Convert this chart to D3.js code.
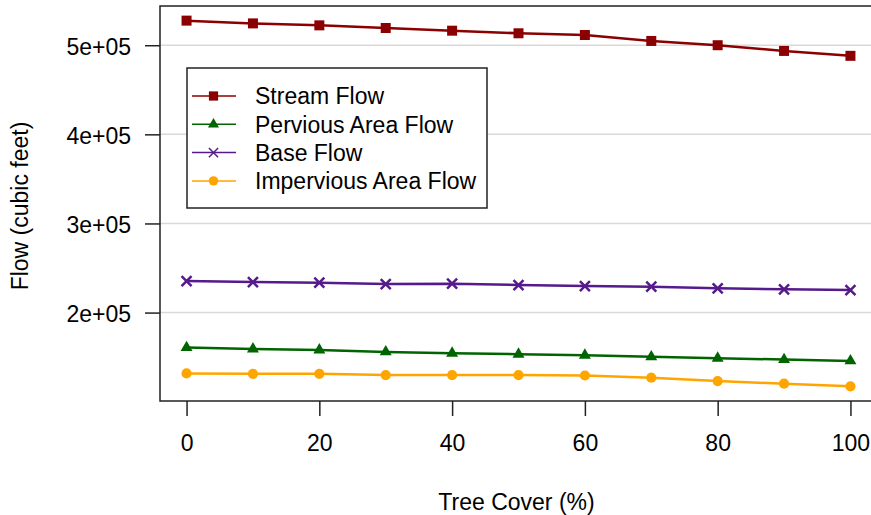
<!DOCTYPE html>
<html>
<head>
<meta charset="utf-8">
<script src="https://cdn.jsdelivr.net/npm/d3@7"></script>
<style>
  body { margin: 0; background: #fff; }
  svg text { font-family: "Liberation Sans", Arial, sans-serif; fill: #000; }
</style>
</head>
<body>
<svg id="chart" width="871" height="515"></svg>
<script>
// tree cover (%) at each marker
const treeCover = [0, 10, 20, 30, 40, 50, 60, 70, 80, 90, 100];

const streamFlow = [527600, 524500, 522300, 519300, 516300, 513400, 511500, 504800, 500000, 493600, 488100];
const perviousFlow = [160700, 159200, 158100, 155900, 154400, 153300, 152200, 150300, 148800, 147300, 145800];
const baseFlow = [235400, 234200, 233600, 232000, 232400, 230900, 229800, 229100, 227200, 226100, 225300];
const imperviousFlow = [131700, 131300, 131300, 129900, 129900, 129900, 129400, 126900, 123200, 120200, 117200];

const seriesNames = ["Stream Flow", "Pervious Area Flow", "Base Flow", "Impervious Area Flow"];
const seriesColors = ["#8B0000", "#006400", "#551A8B", "#FFA500"];
const seriesSymbols = [d3.symbolSquare, d3.symbolTriangle, d3.symbolTimes, d3.symbolCircle];
const symbolSizes = [100, 62, 67, 82];

const yTicks = [200000, 300000, 400000, 500000];
const xTicks = [0, 20, 40, 60, 80, 100];

const series = [streamFlow, perviousFlow, baseFlow, imperviousFlow].map((vals, i) => ({
  name: seriesNames[i],
  color: seriesColors[i],
  symbol: seriesSymbols[i],
  size: symbolSizes[i],
  points: vals.map((v, j) => ({x: treeCover[j], y: v}))
}));

const plot = {left: 160, top: 6, right: 877, bottom: 401};

// R style 4% padding on both axes
function padded(lo, hi) {
  const d = (hi - lo) * 0.04;
  return [lo - d, hi + d];
}

const allY = [].concat(streamFlow, perviousFlow, baseFlow, imperviousFlow);

var x = d3.scaleLinear()
    .domain(padded(d3.min(treeCover), d3.max(treeCover)))
    .range([plot.left, plot.right]);

var y = d3.scaleLinear()
    .domain(padded(d3.min(allY), d3.max(allY)))
    .range([plot.bottom, plot.top]);

var svg = d3.select("#chart");

// grid
svg.append("g").selectAll("line").data(yTicks).enter().append("line")
    .attr("x1", plot.left).attr("x2", plot.right)
    .attr("y1", d => y(d)).attr("y2", d => y(d))
    .attr("stroke", "#d9d9d9").attr("stroke-width", 1.5);

// axes
var yAxis = d3.axisLeft(y)
    .tickValues(yTicks)
    .tickSize(15)
    .tickPadding(14)
    .tickFormat(d => (d / 100000) + "e+05");

var xAxis = d3.axisBottom(x)
    .tickValues(xTicks)
    .tickSize(15)
    .tickPadding(19);

var yAxisG = svg.append("g")
    .attr("transform", `translate(${plot.left},0)`)
    .call(yAxis);

var xAxisG = svg.append("g")
    .attr("transform", `translate(0,${plot.bottom})`)
    .call(xAxis);

[yAxisG, xAxisG].forEach(g => {
  g.select(".domain").remove();
  g.selectAll(".tick line").attr("stroke", "#222").attr("stroke-width", 1.5);
  g.selectAll(".tick text").attr("font-size", 23).attr("fill", "#000");
});
yAxisG.selectAll(".tick text").attr("dy", "0.4em");

// box
svg.append("rect")
    .attr("x", plot.left).attr("y", plot.top)
    .attr("width", plot.right - plot.left).attr("height", plot.bottom - plot.top)
    .attr("fill", "none").attr("stroke", "#222").attr("stroke-width", 1.5);

// lines
var line = d3.line().x(d => x(d.x)).y(d => y(d.y));

var seriesG = svg.append("g").selectAll("g").data(series).enter().append("g");

seriesG.append("path")
    .attr("d", d => line(d.points))
    .attr("fill", "none")
    .attr("stroke", d => d.color)
    .attr("stroke-width", 2.5);

seriesG.each(function(s) {
  var sym = d3.symbol().type(s.symbol).size(s.size);
  var isStroke = s.symbol === d3.symbolTimes;
  d3.select(this).selectAll(".pt").data(s.points).enter().append("path")
      .attr("class", "pt")
      .attr("transform", d => `translate(${x(d.x)},${y(d.y)})`)
      .attr("d", sym)
      .attr("fill", isStroke ? "none" : s.color)
      .attr("stroke", isStroke ? s.color : "none")
      .attr("stroke-width", isStroke ? 2.5 : 0);
});

// legend
var legend = svg.append("g");
legend.append("rect")
    .attr("x", 187).attr("y", 68)
    .attr("width", 300).attr("height", 140)
    .attr("fill", "#fff").attr("stroke", "#222").attr("stroke-width", 1.5);

var rows = legend.selectAll(".row").data(series).enter().append("g")
    .attr("class", "row")
    .attr("transform", (d, i) => `translate(0,${96 + i * 28.3})`);

rows.append("line")
    .attr("x1", 192).attr("x2", 236)
    .attr("stroke", d => d.color).attr("stroke-width", 1.5);

rows.append("path")
    .attr("transform", "translate(213.5,0)")
    .attr("d", d => d3.symbol().type(d.symbol).size(d.size * 0.85)())
    .attr("fill", d => d.symbol === d3.symbolTimes ? "none" : d.color)
    .attr("stroke", d => d.symbol === d3.symbolTimes ? d.color : "none")
    .attr("stroke-width", 1.5);

rows.append("text")
    .attr("x", 255).attr("dy", "0.36em")
    .attr("font-size", 23)
    .text(d => d.name);

// axis titles
svg.append("text")
    .attr("x", (plot.left + 877) / 2 - 2).attr("y", 510)
    .attr("text-anchor", "middle").attr("font-size", 23)
    .text("Tree Cover (%)");

svg.append("text")
    .attr("transform", "translate(28,206) rotate(-90)")
    .attr("text-anchor", "middle").attr("font-size", 23)
    .text("Flow (cubic feet)");
</script>
</body>
</html>
